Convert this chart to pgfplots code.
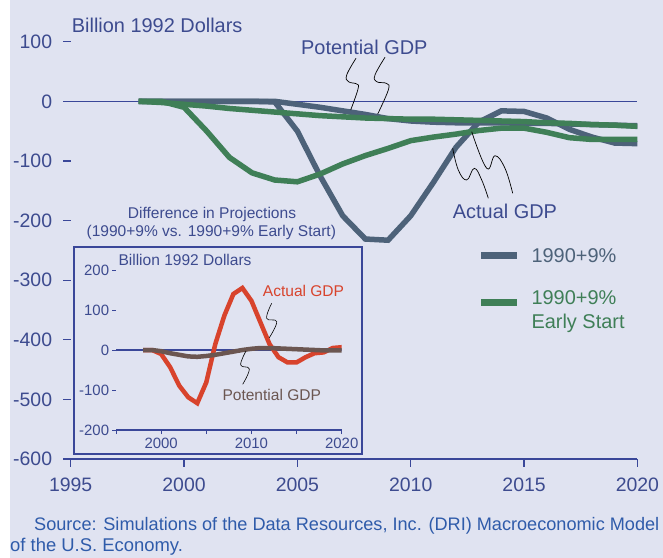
\documentclass[border=0pt]{standalone}
\usepackage{pgfplots}
\usepackage{pgfplotstable}
\pgfplotsset{compat=1.18}
\usepackage{fontspec}
\setmainfont{Liberation Sans}
\definecolor{bg}{HTML}{E0E3F1}
\definecolor{axisblue}{HTML}{3A4799}
\definecolor{txtblue}{HTML}{3D4B8F}
\definecolor{srcblue}{HTML}{2F5BAA}
\definecolor{slate}{HTML}{4D6279}
\definecolor{grn}{HTML}{3F7F57}
\definecolor{redl}{HTML}{D8432C}
\definecolor{brownl}{HTML}{6B5651}

\pgfplotstableread{
year a1 p1 a2 p2
1998 0 0 0 0
1999 0 0 0 -2
2000 0 0 -10 -5
2001 0 0 -50 -8
2002 0 0 -94 -12
2003 0 0 -120 -15
2004 -1 0 -132 -18
2005 -50 -5 -135 -21
2006 -125 -10 -122 -24
2007 -192 -16 -105 -26
2008 -231 -22 -91 -28
2009 -233 -29 -79 -29
2010 -192 -33 -66 -30
2011 -136 -35 -60 -30
2012 -77 -36 -55 -31
2013 -35 -36 -49 -32
2014 -16 -36 -45 -33
2015 -17 -37 -45 -34
2016 -28 -37 -52 -36
2017 -47 -38 -61 -37
2018 -60 -39 -64 -39
2019 -70 -40 -64 -40
2020 -71 -41 -64 -42
}\maindata

\pgfplotstableread{
year act pot
1998 0 0
1999 0 0
2000 -10 -3
2001 -43 -8
2002 -89 -12
2003 -118 -16
2004 -133 -17
2005 -81 -15
2006 15 -12
2007 86 -8
2008 140 -4
2009 155 0
2010 123 3
2011 69 5
2012 15 5
2013 -18 4
2014 -31 3
2015 -31 2
2016 -18 1
2017 -8 0
2018 -6 -1
2019 5 -1
2020 7 -1
}\insetdata

\begin{document}
\begin{tikzpicture}
\path[use as bounding box] (0,0) rectangle (663bp,-558bp);
\fill[bg] (10bp,0) rectangle (663bp,-558bp);

\begin{axis}[
  at={(70.7bp,-459bp)}, anchor=south west,
  scale only axis, width=566.7bp, height=417.3bp,
  xmin=1995, xmax=2020, ymin=-600, ymax=100,
  axis lines=left, axis line style={-},
  y axis line style={draw=none},
  x axis line style={draw=axisblue, line width=1.3bp, shorten <=-7.5bp},
  tick align=outside, major tick length=7.5bp,
  tick style={draw=axisblue, line width=1.3bp},
  xtick={1995,2000,...,2020}, ytick={-600,-500,...,100},
  /pgf/number format/assume math mode=true,
  /pgf/number format/1000 sep={},
  tick label style={font=\fontsize{19.5}{23}\selectfont, text=txtblue, inner sep=0pt},
  yticklabel style={xshift=-10.9bp},
  xticklabel style={yshift=-11.5bp},
  legend style={at={(axis cs:2012.94,-246)}, anchor=north west, draw=none, fill=none,
     inner sep=0pt, font=\fontsize{20}{25}\selectfont, row sep=23bp, column sep=11bp,
     nodes={inner sep=0pt}},
  legend cell align=left,
  legend image code/.code={\draw[#1, line width=7bp, line cap=butt] (0bp,0bp) -- (36bp,0bp);},
]
\addplot[axisblue, line width=1.3bp, forget plot] coordinates {(1995,0) (2020,0)};
\addplot[slate, line width=5.5bp, forget plot] table[x=year, y=p1] {\maindata};
\addplot[slate, line width=5.5bp] table[x=year, y=a1] {\maindata};
\addlegendentry{\textcolor{slate}{1990+9\%}}
\addplot[grn, line width=5.5bp, forget plot] table[x=year, y=p2] {\maindata};
\addplot[grn, line width=5.5bp] table[x=year, y=a2] {\maindata};
\addlegendentry{\textcolor{grn}{\begin{tabular}{@{}l@{}}1990+9\%\\Early Start\end{tabular}}}
\end{axis}

% main labels
\node[anchor=base west, inner sep=0pt, text=txtblue, font=\fontsize{20}{24}\selectfont] at (71.7bp,-32.7bp) {Billion 1992 Dollars};
\node[anchor=base west, inner sep=0pt, text=txtblue, font=\fontsize{20}{24}\selectfont] at (301bp,-54bp) {Potential GDP};
\node[anchor=base west, inner sep=0pt, text=txtblue, font=\fontsize{20}{24}\selectfont] at (452.7bp,-218.3bp) {Actual GDP};

% leader squiggles (main)
\draw[black, line width=0.7bp] plot[smooth, tension=0.7] coordinates {(356bp,-58.3bp) (346.7bp,-75bp) (348.5bp,-81.7bp) (356.7bp,-84bp) (358bp,-89bp) (350.7bp,-110bp)};
\draw[black, line width=0.7bp] plot[smooth, tension=0.7] coordinates {(385bp,-57.3bp) (375bp,-75bp) (376.7bp,-81.7bp) (386.7bp,-83.5bp) (388.3bp,-90bp) (377.7bp,-114bp)};
\draw[black, line width=0.7bp] plot[smooth, tension=0.7] coordinates {(452.7bp,-148.3bp) (458.3bp,-170bp) (466.7bp,-180bp) (474.3bp,-168.3bp) (481.7bp,-180bp) (488.3bp,-198.3bp)};
\draw[black, line width=0.7bp] plot[smooth, tension=0.7] coordinates {(471.7bp,-131.7bp) (486.7bp,-168.3bp) (495bp,-155.7bp) (505bp,-168.3bp) (512.7bp,-193.3bp)};

% inset title
\node[anchor=base, inner sep=0pt, text=txtblue, font=\fontsize{15.6}{18}\selectfont] at (212bp,-218bp) {Difference in Projections};
\node[anchor=base, inner sep=0pt, text=txtblue, font=\fontsize{15.6}{18}\selectfont] at (211.3bp,-236.5bp) {(1990+9\% vs. 1990+9\% Early Start)};
\filldraw[fill=bg, draw=axisblue, line width=1.6bp] (74bp,-246.7bp) rectangle (361.7bp,-454bp);

\begin{axis}[
  at={(116bp,-430bp)}, anchor=south west,
  scale only axis, width=225.7bp, height=160bp,
  xmin=1995, xmax=2020, ymin=-200, ymax=200,
  axis lines=left, axis line style={-},
  y axis line style={draw=none},
  x axis line style={draw=axisblue, line width=1.2bp},
  tick align=outside, major tick length=4bp,
  tick style={draw=axisblue, line width=1bp},
  xtick={1995,2000,...,2020}, xticklabels={,2000,,2010,,2020},
  ytick={-200,-100,...,200},
  /pgf/number format/assume math mode=true,
  /pgf/number format/1000 sep={},
  tick label style={font=\fontsize{15}{18}\selectfont, text=txtblue, inner sep=0pt},
  yticklabel style={xshift=-2.7bp},
  xticklabel style={yshift=-4.3bp},
]
\addplot[axisblue, line width=1.2bp] coordinates {(1995,0) (2020,0)};
\addplot[redl, line width=4.5bp] table[x=year, y=act] {\insetdata};
\addplot[brownl, line width=4.5bp] table[x=year, y=pot] {\insetdata};
\end{axis}

\node[anchor=base west, inner sep=0pt, text=txtblue, font=\fontsize{15.6}{18}\selectfont] at (118.3bp,-265bp) {Billion 1992 Dollars};
\node[anchor=base west, inner sep=0pt, text=redl, font=\fontsize{15.6}{18}\selectfont] at (262.7bp,-296.7bp) {Actual GDP};
\node[anchor=base west, inner sep=0pt, text=brownl, font=\fontsize{15.6}{18}\selectfont] at (222.3bp,-400bp) {Potential GDP};
\draw[black, line width=0.6bp] plot[smooth, tension=0.7] coordinates {(271.7bp,-303.3bp) (266.7bp,-318.3bp) (276.7bp,-321.7bp) (269.3bp,-337.7bp)};
\draw[black, line width=0.6bp] plot[smooth, tension=0.7] coordinates {(246bp,-351bp) (240.7bp,-365bp) (249.3bp,-369bp) (242.7bp,-384.3bp)};

% source
\node[anchor=base west, inner sep=0pt, text=srcblue, font=\fontsize{18.2}{22}\selectfont] at (34bp,-530bp) {Source: Simulations of the Data Resources, Inc. (DRI) Macroeconomic Model};
\node[anchor=base west, inner sep=0pt, text=srcblue, font=\fontsize{18.5}{22}\selectfont] at (10bp,-551bp) {of the U.S. Economy.};
\end{tikzpicture}
\end{document}
